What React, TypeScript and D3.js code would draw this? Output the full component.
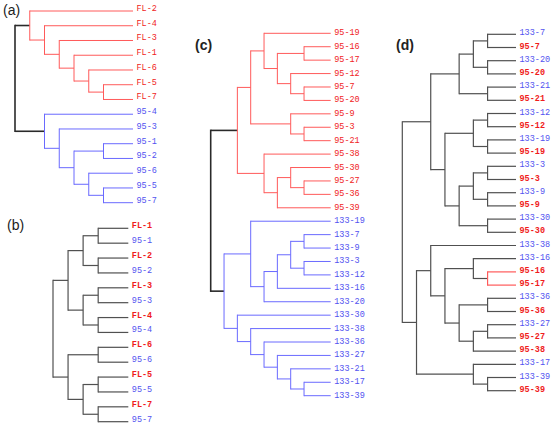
import React from "react";
import * as d3 from "d3";

type Tree = string | Tree[];

// ---- Data: tree topologies (leaf labels) ----
const treeA: Tree = [
  ["FL-2", ["FL-4", ["FL-3", ["FL-1", ["FL-6", ["FL-5", "FL-7"]]]]]],
  ["95-4", ["95-3", [["95-1", "95-2"], ["95-6", ["95-5", "95-7"]]]]],
];

const treeB: Tree = [
  [
    [["FL-1", "95-1"], ["FL-2", "95-2"]],
    [["FL-3", "95-3"], ["FL-4", "95-4"]],
  ],
  [["FL-6", "95-6"], [["FL-5", "95-5"], ["FL-7", "95-7"]]],
];

const treeC: Tree = [
  [
    [
      ["95-19", [["95-16", "95-17"], ["95-12", ["95-7", "95-20"]]]],
      ["95-9", ["95-3", "95-21"]],
    ],
    ["95-38", [["95-30", ["95-27", "95-36"]], "95-39"]],
  ],
  [
    ["133-19", [[[["133-7", "133-9"], ["133-3", "133-12"]], "133-16"], "133-20"]],
    ["133-30", ["133-38", ["133-36", ["133-27", ["133-21", ["133-17", "133-39"]]]]]],
  ],
];

const treeD: Tree = [
  [
    [[["133-7", "95-7"], ["133-20", "95-20"]], ["133-21", "95-21"]],
    [
      [["133-12", "95-12"], ["133-19", "95-19"]],
      [[["133-3", "95-3"], ["133-9", "95-9"]], ["133-30", "95-30"]],
    ],
  ],
  [
    ["133-38", [["133-16", ["95-16", "95-17"]], [["133-36", "95-36"], [["133-27", "95-27"], "95-38"]]]],
    ["133-17", ["133-39", "95-39"]],
  ],
];

const panelLabels = ["(a)", "(b)", "(c)", "(d)"];

// ---- styles ----
const RED_LINE = "#ff5a5a";
const BLUE_LINE = "#6a6aff";
const DARK = "#2a2a2a";
const GRAY = "#505050";
const RED_TEXT = "#f01c1c";
const BLUE_TEXT = "#5252f0";

interface PanelCfg {
  tree: Tree;
  rootX: number;
  leafEnd: number;
  yTop: number;
  yBot: number;
  redPrefix: string;
  boldRed: boolean;
  labelDy: number;
  lineColor: (n: d3.HierarchyNode<Tree>) => string;
  lineWidth: (n: d3.HierarchyNode<Tree>) => number;
}

const leafNames = (n: d3.HierarchyNode<Tree>) => n.leaves().map((l) => l.data as string);

const panels: PanelCfg[] = [
  {
    tree: treeA, rootX: 15, leafEnd: 133, yTop: 11, yBot: 202.7, redPrefix: "FL", boldRed: false, labelDy: 0,
    lineColor: (n) => (n.depth === 0 ? DARK : leafNames(n).every((s) => s.startsWith("FL")) ? RED_LINE : BLUE_LINE),
    lineWidth: (n) => (n.depth === 0 ? 1.6 : 1),
  },
  {
    tree: treeB, rootX: 53, leafEnd: 128.3, yTop: 228.3, yBot: 421.7, redPrefix: "FL", boldRed: true, labelDy: 0,
    lineColor: () => GRAY,
    lineWidth: () => 1.2,
  },
  {
    tree: treeC, rootX: 210.7, leafEnd: 330.7, yTop: 33.3, yBot: 395.7, redPrefix: "95", boldRed: false, labelDy: 2,
    lineColor: (n) => (n.depth === 0 ? DARK : leafNames(n).every((s) => s.startsWith("95")) ? RED_LINE : BLUE_LINE),
    lineWidth: (n) => (n.depth === 0 ? 1.6 : 1),
  },
  {
    tree: treeD, rootX: 402.3, leafEnd: 516, yTop: 34.3, yBot: 390.7, redPrefix: "95", boldRed: true, labelDy: 1,
    lineColor: (n) => (leafNames(n).every((s) => s.startsWith("95")) ? RED_LINE : GRAY),
    lineWidth: () => 1.2,
  },
];

const labelPos = [
  { x: 3, y: 15, bold: false },
  { x: 7, y: 229.5, bold: false },
  { x: 195, y: 49.5, bold: true },
  { x: 396, y: 49.5, bold: true },
];

function Dendrogram({ cfg }: { cfg: PanelCfg }) {
  const root = d3.hierarchy<Tree>(cfg.tree, (d) => (Array.isArray(d) ? d : null));
  const leaves = root.leaves();
  const yScale = d3
    .scalePoint<string>()
    .domain(leaves.map((l) => l.data as string))
    .range([cfg.yTop, cfg.yBot]);
  const xScale = d3.scaleLinear().domain([root.height + 1, 0]).range([cfg.rootX, cfg.leafEnd]);

  const pos = new Map<d3.HierarchyNode<Tree>, { x: number; y: number }>();
  root.eachAfter((n) => {
    if (!n.children) {
      pos.set(n, { x: xScale(0), y: yScale(n.data as string)! });
    } else {
      const ys = n.children.map((c) => pos.get(c)!.y);
      pos.set(n, { x: xScale(n.height + 1), y: d3.mean(ys)! });
    }
  });

  const elems: React.ReactNode[] = [];
  let k = 0;
  root.each((n) => {
    if (!n.children) return;
    const p = pos.get(n)!;
    const col = cfg.lineColor(n);
    const w = cfg.lineWidth(n);
    const cy = n.children.map((c) => pos.get(c)!.y);
    elems.push(
      <line key={k++} x1={p.x} x2={p.x} y1={d3.min(cy)! - w / 2} y2={d3.max(cy)! + w / 2} stroke={col} strokeWidth={w} />
    );
    n.children.forEach((c) => {
      const q = pos.get(c)!;
      elems.push(<line key={k++} x1={p.x} x2={q.x} y1={q.y} y2={q.y} stroke={col} strokeWidth={w} />);
    });
  });

  leaves.forEach((l) => {
    const q = pos.get(l)!;
    const name = l.data as string;
    const isRed = name.startsWith(cfg.redPrefix + "-");
    elems.push(
      <text
        key={k++}
        x={cfg.leafEnd + 3.5}
        y={q.y + cfg.labelDy}
        fill={isRed ? RED_TEXT : BLUE_TEXT}
        fontWeight={isRed && cfg.boldRed ? "bold" : "normal"}
        fontFamily="'Liberation Mono', 'Courier New', monospace"
        fontSize={8.5}
      >
        {name}
      </text>
    );
  });

  return <g>{elems}</g>;
}

export default function App() {
  return (
    <svg
      width={551}
      height={427}
      style={{ position: "absolute", left: 0, top: 0, background: "#fff" }}
    >
      <rect width={551} height={427} fill="#fff" />
      {panels.map((p, i) => (
        <Dendrogram key={i} cfg={p} />
      ))}
      {panelLabels.map((t, i) => (
        <text
          key={t}
          x={labelPos[i].x}
          y={labelPos[i].y}
          fontFamily="'Liberation Sans', Arial, sans-serif"
          fontSize={14}
          fontWeight={labelPos[i].bold ? "bold" : "normal"}
          fill="#222"
        >
          {t}
        </text>
      ))}
    </svg>
  );
}
